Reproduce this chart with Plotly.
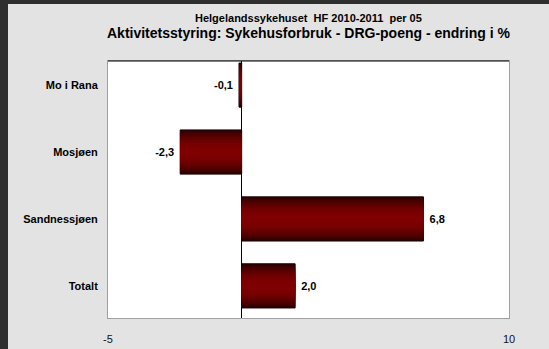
import plotly.graph_objects as go

categories = ["Mo i Rana", "Mosjøen", "Sandnessjøen", "Totalt"]
values = [-0.1, -2.3, 6.8, 2.0]
x_ticks = [-5, 10]
title_line1 = "Helgelandssykehuset  HF 2010-2011  per 05"
title_line2 = "Aktivitetsstyring: Sykehusforbruk - DRG-poeng - endring i %"

W, H = 549, 349
L, R, T, B = 108, 40, 61, 31
pw, ph = W - L - R, H - T - B

FONT = "Liberation Sans, Arial, sans-serif"
bar_w = 0.66
N = 12
NB = "\u00a0"

labels = [(f"{v:.1f}".replace(".", ",") + NB) if v < 0 else (NB + f"{v:.1f}".replace(".", ","))
          for v in values]

fig = go.Figure()
for k in range(N):
    f = 1 - k / N
    lvl = 1 - f ** 2.2
    r = int(0x30 + (0x80 - 0x30) * lvl)
    color = f"rgb({r},0,0)"
    if k == 0:
        kw = dict(text=labels, textposition="outside",
                  textfont=dict(family=FONT, size=11, color="black", weight="bold"),
                  cliponaxis=False,
                  marker=dict(color=color, line=dict(color="#1a0000", width=1)))
    else:
        kw = dict(marker=dict(color=color, line=dict(width=0)), hoverinfo="skip")
    fig.add_trace(go.Bar(y=categories, x=values, orientation="h",
                         width=bar_w * f, showlegend=False, **kw))

fig.update_layout(
    width=W, height=H,
    margin=dict(l=L, r=R, t=T, b=B, pad=0),
    barmode="overlay",
    paper_bgcolor="#e3e3e3",
    plot_bgcolor="white",
    font=dict(family=FONT, size=11, color="black"),
    xaxis=dict(range=[-5, 10], tickvals=x_ticks, ticktext=[str(v) for v in x_ticks],
               showgrid=False, zeroline=True, zerolinecolor="black", zerolinewidth=1,
               showline=True, linecolor="#a0a0a0", linewidth=1, mirror=True,
               ticks="", ticklabelstandoff=11, automargin=False,
               tickfont=dict(family=FONT, size=11, color="#111")),
    yaxis=dict(type="category", categoryorder="array", categoryarray=categories,
               range=[3.48, -0.36], showgrid=False, zeroline=False,
               showline=True, linecolor="#a0a0a0", linewidth=1, mirror=True,
               ticks="", ticklabelstandoff=7, automargin=False,
               tickfont=dict(family=FONT, size=11, color="black", weight="bold")),
    shapes=[
        dict(type="line", xref="paper", yref="paper", x0=0, x1=1, y0=1, y1=1,
             line=dict(color="black", width=1)),
        dict(type="rect", xref="paper", yref="paper", x0=-L / pw, x1=(-L + 8) / pw,
             y0=-B / ph, y1=1 + T / ph, fillcolor="#2e2e2e", line=dict(width=0)),
        dict(type="rect", xref="paper", yref="paper", x0=-L / pw, x1=1 + R / pw,
             y0=1 + (T - 4) / ph, y1=1 + T / ph, fillcolor="#2e2e2e", line=dict(width=0)),
    ],
    annotations=[
        dict(text=f"<b>{title_line1}</b>", xref="paper", yref="paper", x=0.5,
             y=1 + (T - 18) / ph, showarrow=False, yanchor="middle",
             font=dict(family=FONT, size=11, color="black")),
        dict(text=f"<b>{title_line2}</b>", xref="paper", yref="paper", x=0.5,
             y=1 + (T - 33) / ph, showarrow=False, yanchor="middle",
             font=dict(family=FONT, size=14, color="black")),
    ],
)

fig.write_html("out.html", config={"displayModeBar": False, "staticPlot": True},
               post_script="document.body.style.margin='0';")
